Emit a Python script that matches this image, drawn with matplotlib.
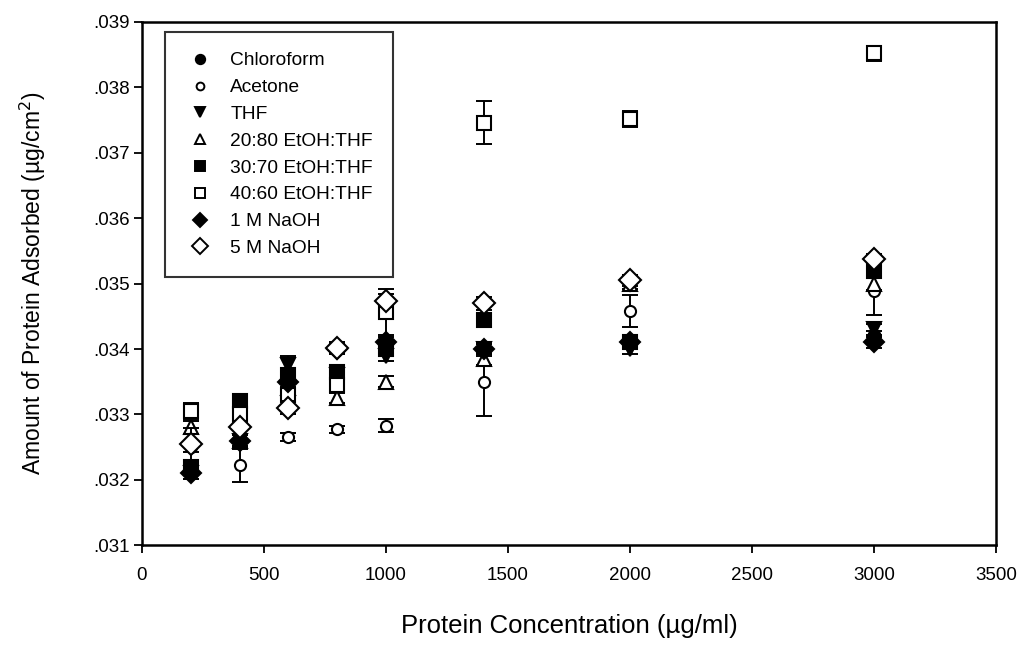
import matplotlib
matplotlib.use("Agg")
import matplotlib.pyplot as plt
from matplotlib.ticker import FuncFormatter, MultipleLocator

plt.rcParams['font.family'] = ['Liberation Sans', 'DejaVu Sans']

# Protein concentration (ug/ml)
conc = [200, 400, 600, 800, 1000, 1400, 2000, 3000]

# Amount of protein adsorbed (ug/cm^2) for each pretreatment
chloroform = [0.0321, 0.0326, 0.0336, 0.0336, 0.0340, 0.0340, 0.0341, 0.0342]
acetone    = [0.0325, 0.03222, 0.03265, 0.03277, 0.03283, 0.0335, 0.03458, 0.03488]
thf        = [0.0321, 0.0326, 0.03375, 0.0336, 0.0339, 0.0340, 0.0340, 0.0343]
etoh_20_80 = [0.0328, 0.0326, 0.0334, 0.03325, 0.0335, 0.03385, 0.0350, 0.0350]
etoh_30_70 = [0.0322, 0.0332, 0.0336, 0.03365, 0.0340, 0.03445, 0.0341, 0.0352]
etoh_40_60 = [0.03305, 0.0330, 0.0333, 0.03345, 0.03457, 0.03746, 0.03752, 0.03852]
naoh_1m    = [0.0321, 0.0326, 0.0335, 0.0340, 0.0341, 0.0340, 0.0341, 0.0341]
naoh_5m    = [0.03254, 0.03280, 0.03310, 0.03402, 0.03474, 0.03470, 0.03505, 0.03538]

# Standard deviations
err_chloroform = [0.00008, 0.00008, 0.00008, 0.00008, 0.00008, 0.00008, 0.00008, 0.00008]
err_acetone    = [0.00008, 0.00025, 0.00006, 0.00006, 0.00010, 0.00052, 0.00024, 0.00036]
err_thf        = [0.00008, 0.00010, 0.00015, 0.00008, 0.00008, 0.00010, 0.00008, 0.00008]
err_20_80      = [0.00010, 0.00008, 0.00008, 0.00008, 0.00008, 0.00010, 0.00008, 0.00010]
err_30_70      = [0.00008, 0.00008, 0.00010, 0.00008, 0.00008, 0.00008, 0.00008, 0.00008]
err_40_60      = [0.00012, 0.00012, 0.00010, 0.00010, 0.00035, 0.00033, 0.00012, 0.00012]
err_1m         = [0.00008, 0.00008, 0.00008, 0.00008, 0.00008, 0.00008, 0.00008, 0.00008]
err_5m         = [0.00025, 0.00010, 0.00010, 0.00008, 0.00010, 0.00010, 0.00008, 0.00008]

labels = ["Chloroform", "Acetone", "THF", "20:80 EtOH:THF", "30:70 EtOH:THF",
          "40:60 EtOH:THF", "1 M NaOH", "5 M NaOH"]
series = [chloroform, acetone, thf, etoh_20_80, etoh_30_70, etoh_40_60, naoh_1m, naoh_5m]
errors = [err_chloroform, err_acetone, err_thf, err_20_80, err_30_70, err_40_60, err_1m, err_5m]
styles = [
    dict(marker='o', ms=9, mfc='black'),
    dict(marker='o', ms=8, mfc='white'),
    dict(marker='v', ms=10, mfc='black'),
    dict(marker='^', ms=10, mfc='white'),
    dict(marker='s', ms=9.5, mfc='black'),
    dict(marker='s', ms=9.5, mfc='white'),
    dict(marker='D', ms=10, mfc='black'),
    dict(marker='D', ms=11, mfc='white'),
]
legend_scale = [0.75, 0.7, 0.7, 0.65, 0.7, 0.7, 0.75, 0.7]

fig = plt.figure(figsize=(10.31, 6.46), dpi=100)
ax = fig.add_axes([0.1377, 0.156, 0.8283, 0.810])

for vals, err, lab, st in zip(series, errors, labels, styles):
    ax.errorbar(conc, vals, yerr=err, fmt='none', ecolor='black',
                elinewidth=1.4, capsize=6, capthick=1.4)
    ax.plot(conc, vals, linestyle='none', marker=st['marker'], ms=st['ms'],
            mfc=st['mfc'], mec='black', mew=1.5)

# legend entries with smaller symbols
handles = []
for lab, st, sc in zip(labels, styles, legend_scale):
    h, = ax.plot([], [], linestyle='none', marker=st['marker'], ms=st['ms'] * sc,
                 mfc=st['mfc'], mec='black', mew=1.4, label=lab)
    handles.append(h)

ax.set_xlim(0, 3500)
ax.set_ylim(0.031, 0.039)
ax.xaxis.set_major_locator(MultipleLocator(500))
ax.yaxis.set_major_locator(MultipleLocator(0.001))
ax.yaxis.set_major_formatter(FuncFormatter(lambda v, p: ("%.3f" % v).lstrip('0')))
ax.tick_params(direction='out', length=6, width=1.3, labelsize=13.5)
ax.tick_params(axis='x', pad=10)
ax.tick_params(axis='y', pad=3)
for s in ax.spines.values():
    s.set_linewidth(1.8)

ax.set_xlabel("Protein Concentration (\u00b5g/ml)", fontsize=18.5, labelpad=21)
ax.set_ylabel("Amount of Protein Adsorbed (\u00b5g/cm$^2$)", fontsize=16.5, labelpad=32)

leg = ax.legend(handles=handles, loc='upper left', bbox_to_anchor=(0.027, 0.981),
                fontsize=13.8, frameon=True, fancybox=False, edgecolor='black',
                handlelength=1.6, handletextpad=0.75,
                labelspacing=0.49, borderpad=1.05, borderaxespad=0)
leg.get_frame().set_linewidth(1.5)

fig.savefig("out.png", dpi=100)
